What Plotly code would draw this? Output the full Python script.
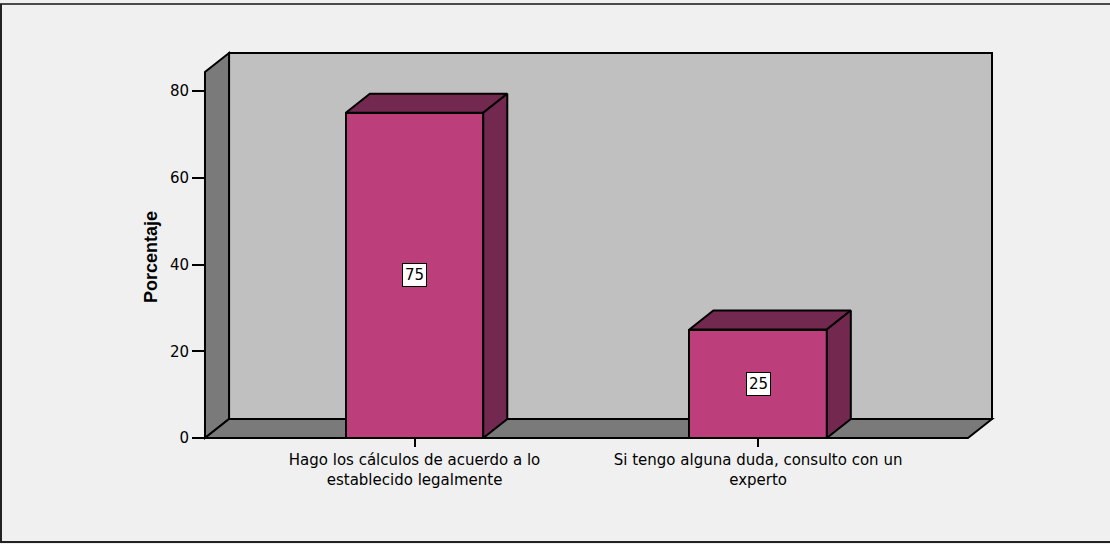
import plotly.graph_objects as go

# Survey answers and their percentages
categories = [
    "Hago los cálculos de acuerdo a lo<br>establecido legalmente",
    "Si tengo alguna duda, consulto con un<br>experto",
]
percentages = [75, 25]
y_ticks = [0, 20, 40, 60, 80]

# 3D box geometry (in axis units)
BAR_W = 0.4
X_LO, X_HI = -0.61, 1.611      # front edge of the floor
DX, DY = 0.07, 4.38            # depth offset of the back plane
WALL_TOP = 84.4                # height of the front edge of the side wall
PAD_X, PAD_Y = 0.0087, 0.69    # small margin so the frame lines are not clipped

FRONT = "#BC3F7C"
SHADE = "#73294F"
WALL_BACK = "#C0C0C0"
WALL_SIDE = "#7A7A7A"
BG = "#F0F0F0"

# Plot-area pixel frame
L, R, T, B = 202, 115, 50, 103
W, H = 1110 - L - R, 544 - T - B


def px_x(p):
    return (p - L) / W


def px_y(p):
    return (544 - B - p) / H


fig = go.Figure()

# Front faces of the bars
fig.add_trace(go.Bar(
    x=list(range(len(categories))), y=percentages, width=BAR_W,
    marker=dict(color=FRONT, line=dict(color="black", width=2)),
    hoverinfo="skip", showlegend=False,
))

# Top and side faces of each bar, derived from its value
for i, v in enumerate(percentages):
    xl, xr = i - BAR_W / 2, i + BAR_W / 2
    fig.add_trace(go.Scatter(
        x=[xl, xl + DX, xr + DX, xr, xl],
        y=[v, v + DY, v + DY, v, v],
        fill="toself", fillcolor=SHADE, mode="lines",
        line=dict(color="black", width=2), hoverinfo="skip", showlegend=False,
    ))
    fig.add_trace(go.Scatter(
        x=[xr, xr + DX, xr + DX, xr, xr],
        y=[0, DY, v + DY, v, 0],
        fill="toself", fillcolor=SHADE, mode="lines",
        line=dict(color="black", width=2), hoverinfo="skip", showlegend=False,
    ))
    fig.add_annotation(
        x=i, y=v / 2, text=str(v), showarrow=False,
        font=dict(family="DejaVu Sans", size=15, color="black"),
        bgcolor="white", bordercolor="black", borderwidth=1, borderpad=2,
    )

# Walls and floor of the chart box
frame_line = dict(color="black", width=2)
fig.add_shape(type="rect", layer="below", xref="x", yref="y",
              x0=X_LO + DX, x1=X_HI + DX, y0=DY, y1=WALL_TOP + DY,
              fillcolor=WALL_BACK, line=frame_line)
fig.add_shape(type="path", layer="below", xref="x", yref="y",
              path=f"M {X_LO},0 L {X_LO},{WALL_TOP} L {X_LO + DX},{WALL_TOP + DY} "
                   f"L {X_LO + DX},{DY} Z",
              fillcolor=WALL_SIDE, line=frame_line)
fig.add_shape(type="path", layer="below", xref="x", yref="y",
              path=f"M {X_LO},0 L {X_HI},0 L {X_HI + DX},{DY} L {X_LO + DX},{DY} Z",
              fillcolor=WALL_SIDE, line=frame_line)

# Outer border of the figure
border = dict(color="#4A4A4A", width=2)
fig.add_shape(type="line", xref="paper", yref="paper",
              x0=px_x(0), x1=px_x(1110), y0=px_y(4), y1=px_y(4), line=border)
fig.add_shape(type="line", xref="paper", yref="paper",
              x0=px_x(1), x1=px_x(1), y0=px_y(4), y1=px_y(542), line=dict(color="#222222", width=2))
fig.add_shape(type="line", xref="paper", yref="paper",
              x0=px_x(0), x1=px_x(1110), y0=px_y(542), y1=px_y(542), line=dict(color="#222222", width=2))

# Y axis title
fig.add_annotation(
    xref="paper", yref="paper", x=px_x(139), y=px_y(257),
    text="<b>Porcentaje</b>", textangle=-90, showarrow=False,
    font=dict(family="Liberation Sans, Arial, sans-serif", size=18, color="black"),
)

fig.update_layout(
    width=1110, height=544,
    margin=dict(l=L, r=R, t=T, b=B),
    paper_bgcolor=BG, plot_bgcolor=BG,
    bargap=0, showlegend=False,
    xaxis=dict(
        range=[X_LO - PAD_X, X_HI + DX + PAD_X],
        tickvals=list(range(len(categories))), ticktext=categories,
        ticks="outside", ticklen=8, tickwidth=1.5, tickcolor="black",
        showgrid=False, zeroline=False, showline=False,
        anchor="free", position=px_y(438),
        tickfont=dict(family="DejaVu Sans", size=15, color="black"),
    ),
    yaxis=dict(
        range=[-PAD_Y, WALL_TOP + DY + PAD_Y],
        tickvals=y_ticks,
        ticks="outside", ticklen=13, tickwidth=1.5, tickcolor="black",
        showgrid=False, zeroline=False, showline=False,
        anchor="free", position=px_x(205),
        tickfont=dict(family="DejaVu Sans", size=15, color="black"),
    ),
)

fig.write_html("out.html")
